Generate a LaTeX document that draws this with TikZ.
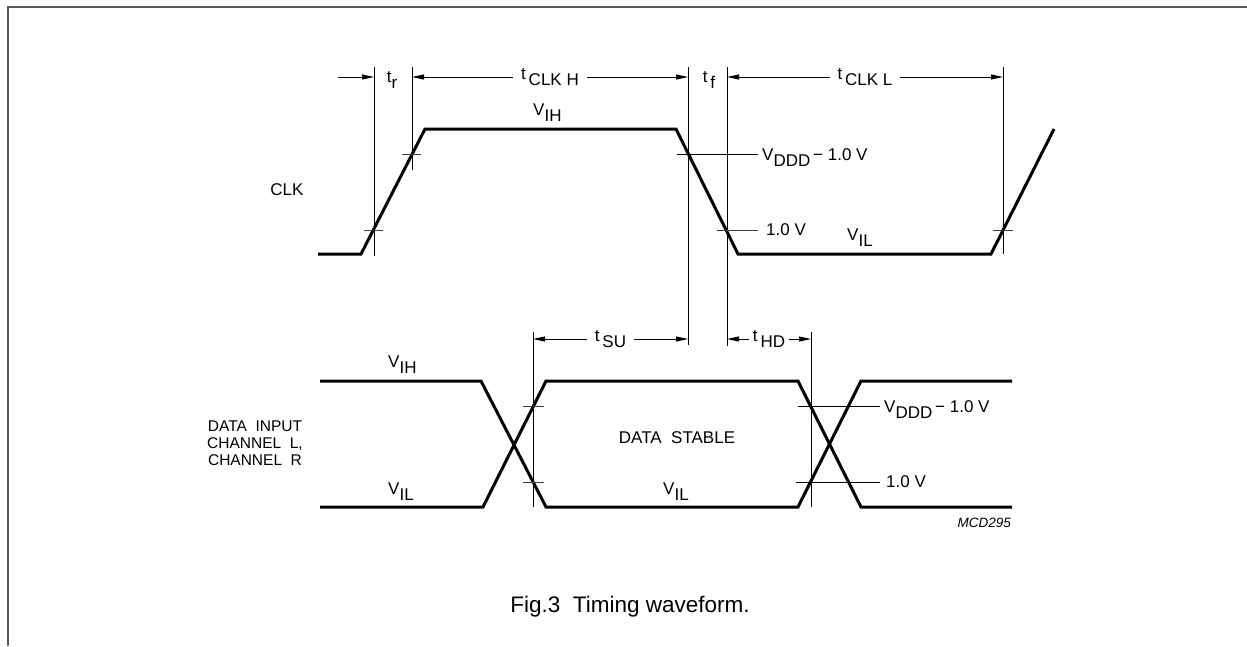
\documentclass[tikz,border=0pt]{standalone}
\usepackage{fontspec}
\setmainfont{Liberation Sans}
\usetikzlibrary{arrows.meta}
\newcommand\lowr[1]{\raisebox{-0.38em}{#1}}
\tikzset{
  wave/.style={line width=3pt, line join=miter},
  thin/.style={line width=0.9pt},
  tick/.style={line width=0.9pt, black!75},
  dim/.style={line width=0.9pt, {Triangle[length=12pt,width=5pt]}-{Triangle[length=12pt,width=5pt]}},
  dimr/.style={line width=0.9pt, -{Triangle[length=12pt,width=5pt]}},
  lbl/.style={font=\fontsize{17}{20}\selectfont, inner sep=0pt},
  gaplbl/.style={font=\fontsize{17}{20}\selectfont, fill=white, inner xsep=8pt, inner ysep=2pt},
  frame/.style={line width=1.5pt, black!65}
}
\begin{document}
\begin{tikzpicture}[x=1pt,y=-1pt]
\useasboundingbox (0,0) rectangle (1247,646);
% frame
\draw[frame] (8,646) -- (8,7) -- (1247,7);

% guide coordinates
\coordinate (v1t) at (374,67);  \coordinate (v1b) at (374,256);
\coordinate (v2t) at (412,67);  \coordinate (v2b) at (412,170);
\coordinate (v3t) at (688,67);  \coordinate (v3b) at (688,345);
\coordinate (v4t) at (727,67);  \coordinate (v4b) at (727,346);
\coordinate (v5t) at (1003,67); \coordinate (v5b) at (1003,254);
\coordinate (v6t) at (533,332); \coordinate (v6b) at (533,507);
\coordinate (v7t) at (811,332); \coordinate (v7b) at (811,507);

% vertical reference lines
\draw[thin] (v1t) -- (v1b);
\draw[thin] (v2t) -- (v2b);
\draw[thin] (v3t) -- (v3b);
\draw[thin] (v4t) -- (v4b);
\draw[thin] (v5t) -- (v5b);
\draw[thin] (v6t) -- (v6b);
\draw[thin] (v7t) -- (v7b);

% clock waveform
\draw[wave] (318,254) -- (361,254) -- (425,129) -- (676,129) -- (738,254) -- (991,254) -- (1054,129);

% data waveform
\draw[wave] (320,381) -- (481,381) -- (546,507) -- (798,507) -- (861,381) -- (1012,381);
\draw[wave] (320,507) -- (483,507) -- (546,381) -- (798,381) -- (861,507) -- (1012,507);

% ticks on clock
\draw[tick] (364,230) -- (383,230);
\draw[tick] (402,154) -- (421,154);
\draw[tick] (993,230) -- (1013,230);
\coordinate (h1a) at (677,154); \coordinate (h1b) at (758,154);
\coordinate (h2a) at (717,230); \coordinate (h2b) at (758,230);
\draw[thin] (h1a) -- (h1b);
\draw[tick] (h2a) -- (h2b);
% ticks on data
\draw[tick] (523,406) -- (544,406);
\draw[tick] (523,482) -- (544,482);
\coordinate (h3a) at (798,406); \coordinate (h3b) at (880,406);
\coordinate (h4a) at (796,482); \coordinate (h4b) at (880,482);
\draw[thin] (h3a) -- (h3b);
\draw[thin] (h4a) -- (h4b);

% dimension arrows (clock)
\coordinate (a0) at (338,77);
\draw[dimr] (a0) -- (374,77);
\node[lbl] (tr) at (392,80) {t\lowr{r}};
\draw[dim] (412,77) -- node[gaplbl] (tclkh) {t\,\lowr{CLK H}} (688,77);
\node[lbl] (tf) at (709,80) {t\,\lowr{f}};
\draw[dim] (727,77) -- node[gaplbl] (tclkl) {t\,\lowr{CLK L}} (1003,77);

% dimension arrows (data)
\draw[dim] (533,339) -- node[gaplbl] (tsu) {t\,\lowr{SU}} (688,339);
\draw[dim] (727,339) -- node[gaplbl, inner xsep=4pt] (thd) {t\,\lowr{HD}} (811,339);

% labels
\node[lbl] (clk) at (287,190) {CLK};
\node[lbl, anchor=base west] (vih1) at (533,115) {V\lowr{IH}};
\node[lbl, anchor=base west] (vil1) at (847,240) {V\lowr{IL}};
\node[lbl, anchor=base west] (vddd1) at (762,160) {V\lowr{DDD}\,\textminus\ 1.0 V};
\node[lbl, anchor=west] (one1) at (766,230) {1.0 V};

\node[lbl, align=center, font=\fontsize{15.5}{17}\selectfont] (din) at (255,443) {DATA\ \ INPUT\\CHANNEL\ \ L,\\CHANNEL\ \ R};
\node[lbl, anchor=base west] (vih2) at (388,367) {V\lowr{IH}};
\node[lbl, anchor=base west] (vil2) at (388,494) {V\lowr{IL}};
\node[lbl, anchor=base west] (vil3) at (663,494) {V\lowr{IL}};
\node[lbl] (stable) at (677,438) {DATA\ \ STABLE};
\node[lbl, anchor=base west] (vddd2) at (884,412) {V\lowr{DDD}\,\textminus\ 1.0 V};
\node[lbl, anchor=west] (one2) at (886,482) {1.0 V};
\node[lbl, anchor=east, font=\fontsize{13.5}{15}\selectfont\itshape] (mcd) at (1011,523) {MCD295};

\node[lbl, font=\fontsize{22.5}{26}\selectfont] (cap) at (630,607) {Fig.3\ \ Timing waveform.};
\end{tikzpicture}
\end{document}
